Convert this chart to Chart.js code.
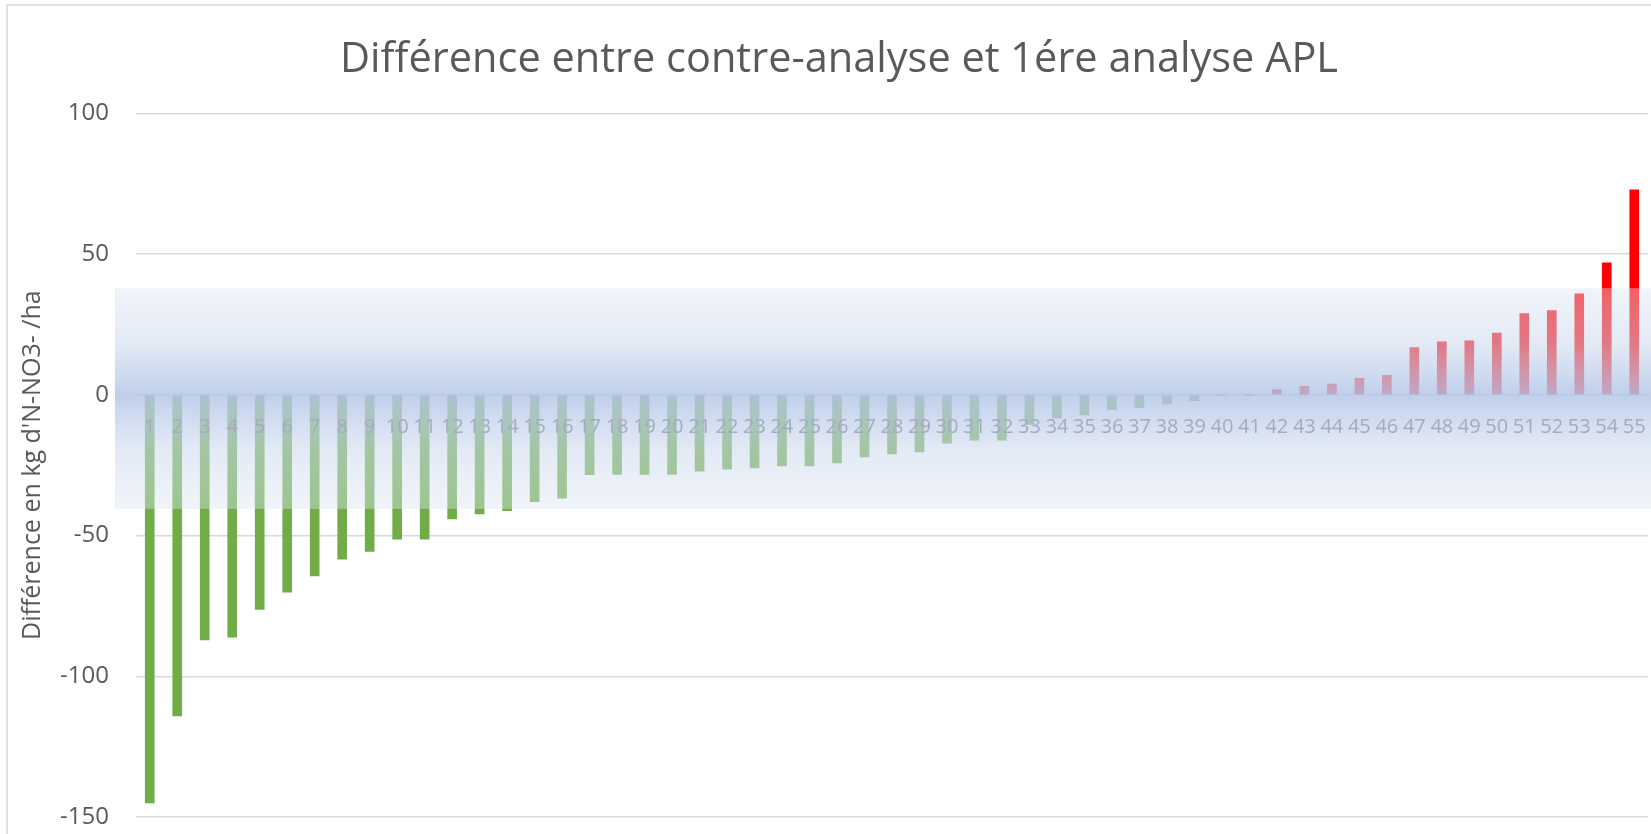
<!DOCTYPE html>
<html lang="fr">
<head>
<meta charset="utf-8">
<title>Différence entre contre-analyse et 1ére analyse APL</title>
<script src="https://cdn.jsdelivr.net/npm/chart.js@4.4.1/dist/chart.umd.min.js"></script>
<style>
	body { margin: 0; background: #ffffff; }
	#graf { display: block; }
</style>
</head>
<body>
<canvas id="graf" width="1651" height="834"></canvas>
<script>
// Numeros des parcelles (axe X)
const parcelles = ['1', '2', '3', '4', '5', '6', '7', '8', '9', '10',
	'11', '12', '13', '14', '15', '16', '17', '18', '19', '20',
	'21', '22', '23', '24', '25', '26', '27', '28', '29', '30',
	'31', '32', '33', '34', '35', '36', '37', '38', '39', '40',
	'41', '42', '43', '44', '45', '46', '47', '48', '49', '50',
	'51', '52', '53', '54', '55'];

// Difference contre-analyse - 1ere analyse (kg N-NO3-/ha)
const differences = [-145.0, -114.1, -87.1, -86.1, -76.2, -70.1, -64.3, -58.4, -55.6, -51.3,
	-51.3, -44.1, -42.3, -41.2, -38.0, -36.7, -28.4, -28.3, -28.3, -28.3,
	-27.1, -26.4, -26.0, -25.3, -25.3, -24.2, -22.1, -21.0, -20.3, -17.2,
	-16.1, -16.1, -10.5, -8.2, -7.1, -5.3, -4.6, -3.2, -2.1, 0,
	0, 1.9, 3.0, 3.8, 5.9, 6.9, 16.8, 18.8, 19.2, 21.9,
	28.9, 29.9, 35.9, 46.9, 72.8];

// Graduations de l'axe Y
const graduationsY = [-150, -100, -50, 0, 50, 100];

// Zone de tolerance (bande bleue) en kg
const bandeHaut = 37.9;
const bandeBas = -40.5;

const gris = '#595959';

// couleur de chaque barre : vert si negatif, rouge si positif
let couleurs = differences.map(function (v) {
	return v < 0 ? '#70ad47' : '#ff0000';
});

// cadre gris autour du graphique
const cadre = {
	id: 'cadre',
	beforeDraw: function (chart) {
		const c = chart.ctx;
		c.save();
		c.fillStyle = '#ffffff';
		c.fillRect(0, 0, chart.width, chart.height);
		c.strokeStyle = '#d9d9d9';
		c.lineWidth = 1.5;
		c.strokeRect(7, 5, chart.width + 20, chart.height + 20);
		c.restore();
	}
};

// bande bleue en degrade, par dessus les barres
const bande = {
	id: 'bande',
	afterDatasetsDraw: function (chart) {
		const c = chart.ctx;
		const y = chart.scales.y;
		const yHaut = y.getPixelForValue(bandeHaut);
		const yBas = y.getPixelForValue(bandeBas);
		const yZero = y.getPixelForValue(0);
		const grad = c.createLinearGradient(0, yHaut, 0, yBas);
		const pZero = (yZero - yHaut) / (yBas - yHaut);
		grad.addColorStop(0, 'rgba(220,230,242,0.42)');
		grad.addColorStop(pZero * 0.5, 'rgba(205,217,238,0.55)');
		grad.addColorStop(pZero, 'rgba(180,198,231,0.85)');
		grad.addColorStop(pZero + (1 - pZero) * 0.5, 'rgba(205,217,238,0.55)');
		grad.addColorStop(1, 'rgba(220,230,242,0.42)');
		c.save();
		c.fillStyle = grad;
		c.fillRect(115, yHaut, chart.width - 115, yBas - yHaut);
		c.restore();
	}
};

const ctx = document.getElementById('graf');

let grafica = new Chart(ctx, {
	type: 'bar',
	data: {
		labels: parcelles,
		datasets: [{
			label: 'Différence',
			data: differences,
			backgroundColor: couleurs,
			borderWidth: 0,
			barThickness: 9
		}]
	},
	plugins: [cadre, bande],
	options: {
		responsive: false,
		animation: false,
		layout: { padding: { left: 30, right: 3, top: 0, bottom: 17 } },
		plugins: {
			legend: { display: false },
			tooltip: { enabled: false },
			title: {
				display: true,
				text: 'Différence entre contre-analyse et 1ére analyse APL',
				color: gris,
				font: { family: 'Open Sans', size: 41.5, weight: 'normal' },
				padding: { top: 35, bottom: 28.6 }
			}
		},
		scales: {
			x: {
				position: { y: 0 },
				afterFit: function (scale) {
					// l'axe est dans la zone de trace : il ne prend pas de place
					scale.height = 0;
					scale.paddingTop = 0;
					scale.paddingBottom = 0;
					scale.paddingLeft = 0;
					scale.paddingRight = 0;
				},
				grid: { display: false, drawTicks: false },
				border: { display: false },
				ticks: {
					// etiquettes dessinees par dessus les barres et la bande
					z: 1,
					autoSkip: false,
					maxRotation: 0,
					minRotation: 0,
					padding: 20,
					color: '#a4abbf',
					font: { family: 'Open Sans', size: 20 }
				}
			},
			y: {
				min: -150,
				max: 100,
				afterFit: function (scale) {
					scale.width = 106;
					scale.paddingTop = 0;
					scale.paddingBottom = 0;
				},
				afterBuildTicks: function (scale) {
					scale.ticks = graduationsY.map(function (v) { return { value: v }; });
				},
				grid: { color: '#d9d9d9', lineWidth: 1.5, drawTicks: false },
				border: { display: false },
				ticks: {
					padding: 27,
					color: gris,
					font: { family: 'Open Sans', size: 24 }
				},
				title: {
					display: true,
					text: "Différence en kg d'N-NO3- /ha",
					color: gris,
					font: { family: 'Open Sans', size: 25 },
					padding: { top: -12 }
				}
			}
		}
	}
});
</script>
</body>
</html>
